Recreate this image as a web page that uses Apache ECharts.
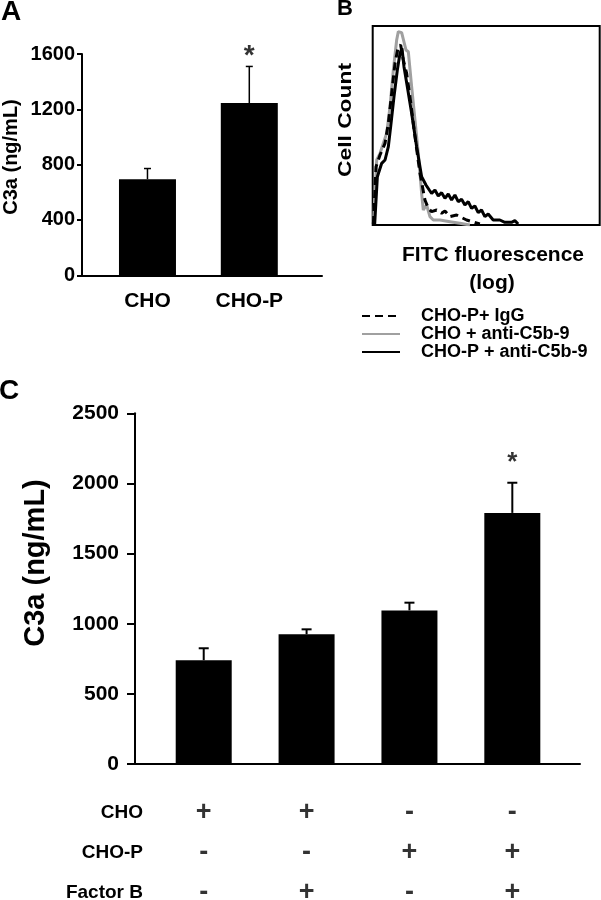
<!DOCTYPE html>
<html><head><meta charset="utf-8">
<script src="https://cdn.jsdelivr.net/npm/echarts@6.0.0/dist/echarts.min.js"></script>
<style>html,body{margin:0;padding:0;background:#fff}#c{width:601px;height:900px}</style>
</head><body><div id="c"></div>
<script>
// ---------- Panel A ----------
const categoriesA = ['CHO', 'CHO-P'];
const valuesA = [695, 1245];
const errorsA = [77, 265];
const significantA = [false, true];
const yTicksA = [0, 400, 800, 1200, 1600];

// ---------- Panel B (flow cytometry histograms: [channel, count]) ----------
const histCHOAnti = [[2,3],[12,195],[22,215],[32,245],[42,275],[52,355],[62,465],[72,555],[77,580],[87,577],[92,575],[100,525],[107,520],[117,415],[127,315],[137,215],[147,95],[152,45],[162,60],[172,25],[182,15],[202,15],[232,10],[262,5],[292,0]];
const histCHOPIgG = [[2,3],[10,175],[22,210],[37,245],[47,305],[57,395],[67,485],[77,535],[84,540],[92,495],[102,455],[112,385],[127,265],[142,155],[157,75],[167,50],[177,40],[192,45],[207,35],[217,42],[232,25],[252,30],[282,15],[322,3]];
const histCHOPAnti = [[6,3],[14,145],[27,185],[37,195],[47,235],[54,295],[64,385],[74,465],[82,515],[88,530],[94,475],[104,415],[117,335],[132,235],[147,145],[160,120],[170,105],[177,95],[187,105],[197,87],[207,97],[217,80],[227,93],[237,75],[247,90],[257,70],[267,77],[277,60],[287,70],[297,50],[307,57],[317,37],[327,45],[337,25],[347,33],[362,15],[382,15],[397,8],[417,8],[427,13],[437,3]];
const legendNames = ['CHO-P+ IgG', 'CHO + anti-C5b-9', 'CHO-P + anti-C5b-9'];
const histXMax = 682, histYMax = 597;

// ---------- Panel C ----------
const valuesC = [740, 925, 1095, 1790];
const errorsC = [85, 35, 55, 215];
const significantC = [false, false, false, true];
const yTicksC = [0, 500, 1000, 1500, 2000, 2500];
const tableRows = ['CHO', 'CHO-P', 'Factor B'];
const signsCHO = ['+', '+', '-', '-'];
const signsCHOP = ['-', '-', '+', '+'];
const signsFactorB = ['-', '+', '-', '+'];

const FONT = '"Liberation Sans", Arial, Helvetica, sans-serif';

function errRender(capHalf, lw) {
  return function (params, api) {
    const x = api.value(0), v = api.value(1), e = api.value(2);
    const p0 = api.coord([x, v]);
    const p1 = api.coord([x, v + e]);
    return { type: 'group', children: [
      { type: 'line', shape: { x1: p0[0], y1: p0[1], x2: p1[0], y2: p1[1] }, style: { stroke: '#000', lineWidth: lw } },
      { type: 'line', shape: { x1: p1[0] - capHalf, y1: p1[1], x2: p1[0] + capHalf, y2: p1[1] }, style: { stroke: '#000', lineWidth: lw } }
    ]};
  };
}
function starData(vals, errs, sig) {
  const out = [];
  vals.forEach((v, i) => { if (sig[i]) out.push([i, v + errs[i]]); });
  return out;
}
const tableData = [];
[signsCHO, signsCHOP, signsFactorB].forEach((row, r) => {
  row.forEach((s, i) => tableData.push([i, tableRows[r], s]));
});

const yAxisStyle = (ticks, fs, margin, tickLen) => ({
  type: 'value', min: ticks[0], max: ticks[ticks.length - 1], interval: ticks[1] - ticks[0],
  axisLine: { show: true, onZero: false, lineStyle: { color: '#000', width: 2 } },
  axisTick: { show: true, inside: false, length: tickLen, lineStyle: { color: '#000', width: 2 } },
  axisLabel: { formatter: v => String(v), color: '#000', fontFamily: FONT, fontWeight: 'bold', fontSize: fs, margin: margin },
  splitLine: { show: false }
});

const chart = echarts.init(document.getElementById('c'), null, { renderer: 'canvas' });
chart.setOption({
  animation: false,
  backgroundColor: '#fff',
  grid: [
    { left: 82, top: 54, width: 240, height: 221.3, containLabel: false, outerBoundsMode: 'none' },
    { left: 372.7, top: 26, width: 227, height: 199, containLabel: false, outerBoundsMode: 'none', show: true, borderColor: '#000', borderWidth: 2, backgroundColor: 'transparent' },
    { left: 135, top: 413.3, width: 445, height: 350.7, containLabel: false, outerBoundsMode: 'none' },
    { left: 150, top: 813, width: 430, height: 80, containLabel: false, outerBoundsMode: 'none' }
  ],
  xAxis: [
    { gridIndex: 0, type: 'value', min: -0.643, max: 1.714,
      axisLine: { show: true, onZero: false, lineStyle: { color: '#000', width: 2 } },
      axisTick: { show: false }, splitLine: { show: false },
      axisLabel: { customValues: [0, 1], formatter: v => categoriesA[Math.round(v)], color: '#000', fontFamily: FONT, fontWeight: 'bold', fontSize: 21, margin: 15 } },
    { gridIndex: 1, type: 'value', min: 0, max: histXMax, show: false },
    { gridIndex: 2, type: 'value', min: -0.668, max: 3.658,
      axisLine: { show: true, onZero: false, lineStyle: { color: '#000', width: 2 } },
      axisTick: { show: false }, axisLabel: { show: false }, splitLine: { show: false } },
    { gridIndex: 3, type: 'value', min: -0.522, max: 3.658, show: false }
  ],
  yAxis: [
    Object.assign({ gridIndex: 0 }, yAxisStyle(yTicksA, 20, 7, 5)),
    { gridIndex: 1, type: 'value', min: 0, max: histYMax, show: false },
    Object.assign({ gridIndex: 2 }, yAxisStyle(yTicksC, 21, 16, 8)),
    { gridIndex: 3, type: 'category', data: tableRows, inverse: true, boundaryGap: false,
      axisLine: { show: false }, axisTick: { show: false }, splitLine: { show: false },
      axisLabel: { color: '#000', fontFamily: FONT, fontWeight: 'bold', fontSize: 19, margin: 7 } }
  ],
  legend: {
    orient: 'vertical', left: 361, top: 307, padding: 0,
    itemWidth: 38, itemHeight: 10, itemGap: 0,
    selectedMode: false, data: legendNames,
    itemStyle: { opacity: 0, borderWidth: 0 },
    textStyle: { color: '#000', fontFamily: FONT, fontWeight: 'bold', fontSize: 18, lineHeight: 17, padding: [0, 0, 0, 16] }
  },
  series: [
    // Panel A
    { type: 'bar', xAxisIndex: 0, yAxisIndex: 0, barWidth: 57, data: valuesA.map((v, i) => [i, v]), itemStyle: { color: '#000' } },
    { type: 'custom', xAxisIndex: 0, yAxisIndex: 0, renderItem: errRender(3.5, 1.5), data: valuesA.map((v, i) => [i, v, errorsA[i]]), z: 3 },
    { type: 'scatter', xAxisIndex: 0, yAxisIndex: 0, symbolSize: 1, itemStyle: { color: 'rgba(0,0,0,0)' },
      data: starData(valuesA, errorsA, significantA),
      label: { show: true, formatter: '*', position: 'inside', offset: [0, -10], color: '#000', fontFamily: FONT, fontWeight: 'bold', fontSize: 28 } },
    // Panel B
    { name: 'CHO + anti-C5b-9', type: 'line', xAxisIndex: 1, yAxisIndex: 1, symbol: 'none', data: histCHOAnti,
      lineStyle: { color: '#a0a0a0', width: 3 }, itemStyle: { color: '#a0a0a0' } },
    { name: 'CHO-P+ IgG', type: 'line', xAxisIndex: 1, yAxisIndex: 1, symbol: 'none', data: histCHOPIgG,
      lineStyle: { color: '#000', width: 3, type: [8, 5] }, itemStyle: { color: '#000' } },
    { name: 'CHO-P + anti-C5b-9', type: 'line', xAxisIndex: 1, yAxisIndex: 1, symbol: 'none', data: histCHOPAnti,
      lineStyle: { color: '#000', width: 3 }, itemStyle: { color: '#000' } },
    // Panel C
    { type: 'bar', xAxisIndex: 2, yAxisIndex: 2, barWidth: 56, data: valuesC.map((v, i) => [i, v]), itemStyle: { color: '#000' } },
    { type: 'custom', xAxisIndex: 2, yAxisIndex: 2, renderItem: errRender(5, 2), data: valuesC.map((v, i) => [i, v, errorsC[i]]), z: 3 },
    { type: 'scatter', xAxisIndex: 2, yAxisIndex: 2, symbolSize: 1, itemStyle: { color: 'rgba(0,0,0,0)' },
      data: starData(valuesC, errorsC, significantC),
      label: { show: true, formatter: '*', position: 'inside', offset: [0, -20], color: '#000', fontFamily: FONT, fontWeight: 'bold', fontSize: 26 } },
    // Table
    { type: 'scatter', xAxisIndex: 3, yAxisIndex: 3, symbolSize: 1, itemStyle: { color: 'rgba(0,0,0,0)' },
      data: tableData,
      label: { show: true, formatter: p => p.value[2], position: 'inside', color: '#000', fontFamily: FONT, fontWeight: 'bold', fontSize: 27 } }
  ],
  graphic: [
    { type: 'text', x: 11, y: 12, style: { text: 'A', font: 'bold 28px ' + FONT, align: 'center', verticalAlign: 'middle', fill: '#000' } },
    { type: 'text', x: 345, y: 9, style: { text: 'B', font: 'bold 22px ' + FONT, align: 'center', verticalAlign: 'middle', fill: '#000' } },
    { type: 'text', x: 9, y: 391, style: { text: 'C', font: 'bold 28px ' + FONT, align: 'center', verticalAlign: 'middle', fill: '#000' } },
    { type: 'text', x: 11, y: 157, rotation: Math.PI / 2, style: { text: 'C3a (ng/mL)', font: 'bold 20px ' + FONT, align: 'center', verticalAlign: 'middle', fill: '#000' } },
    { type: 'text', x: 346, y: 120, rotation: Math.PI / 2, scaleX: 1.2, style: { text: 'Cell Count', font: 'bold 19px ' + FONT, align: 'center', verticalAlign: 'middle', fill: '#000' } },
    { type: 'text', x: 493, y: 255, style: { text: 'FITC fluorescence', font: 'bold 21px ' + FONT, align: 'center', verticalAlign: 'middle', fill: '#000' } },
    { type: 'text', x: 492, y: 283, style: { text: '(log)', font: 'bold 21px ' + FONT, align: 'center', verticalAlign: 'middle', fill: '#000' } },
    { type: 'text', x: 36, y: 563, rotation: Math.PI / 2, style: { text: 'C3a (ng/mL)', font: 'bold 29px ' + FONT, align: 'center', verticalAlign: 'middle', fill: '#000' } }
  ]
});
</script></body></html>
